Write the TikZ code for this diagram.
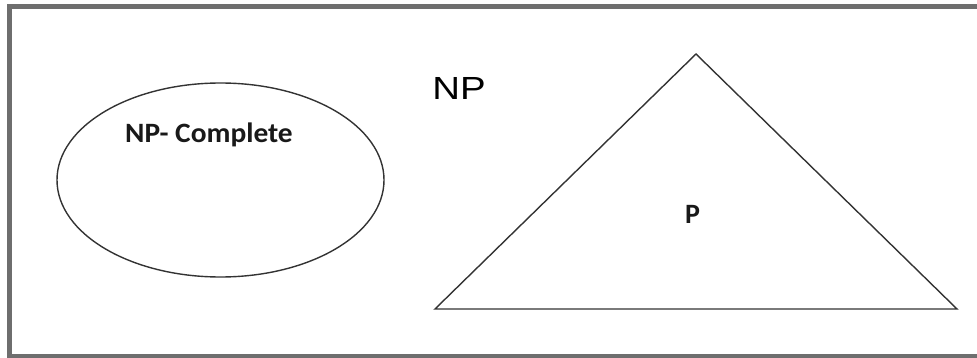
\documentclass[tikz,border=0pt]{standalone}
\usepackage{fontspec}
\usetikzlibrary{shapes.geometric}
\setmainfont{Liberation Sans}
\newfontfamily\calfont{Carlito}
\begin{document}
\begin{tikzpicture}[x=1pt,y=-1pt,
  frame/.style={draw=black!57,line width=5pt},
  shapeline/.style={draw=black!80,line width=1.4pt},
  lbl/.style={font=\calfont\bfseries\fontsize{28}{32}\selectfont,text=black!90,inner sep=0pt},
  biglbl/.style={font=\fontsize{32}{36}\selectfont,text=black,inner sep=0pt,xscale=1.2}]
\useasboundingbox (0,0) rectangle (977,358);
\clip (0,0) rectangle (977,358);
\draw[frame] (9.5,6.5) rectangle (990,356);
\node[shapeline,ellipse,minimum width=327pt,minimum height=194pt,inner sep=0pt] (npc) at (220.5,180) {};
\node[lbl,xscale=1.05] (npclbl) at (209,135) {NP- Complete};
\node[biglbl] (np) at (459,88) {NP};
\coordinate (apex) at (696,54);
\coordinate (bl) at (435,309);
\coordinate (br) at (957,309);
\draw[shapeline,line join=miter] (apex) -- (br) -- (bl) -- cycle;
\node[lbl] (p) at (692.5,214) {P};
\end{tikzpicture}
\end{document}
